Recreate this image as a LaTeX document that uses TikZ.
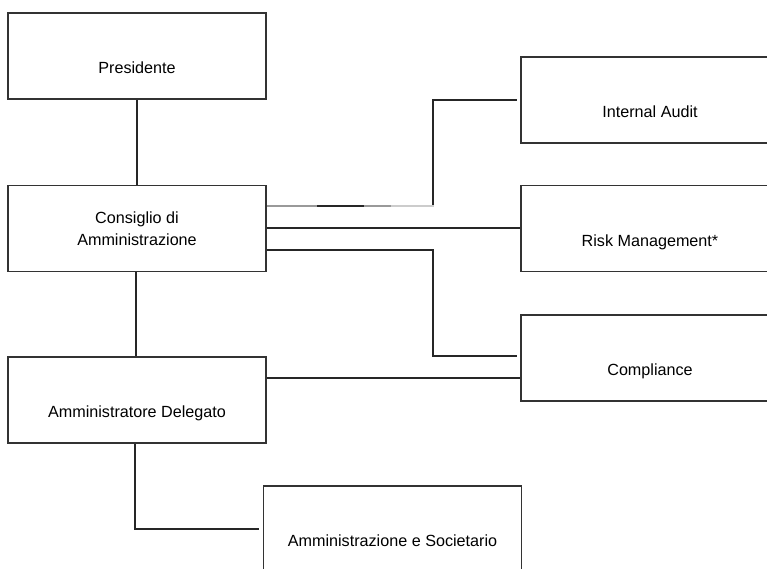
\documentclass[tikz,border=0pt]{standalone}
\usepackage{fontspec}
\setmainfont{Liberation Sans}
\usetikzlibrary{calc}

\def\unitwidth{5.16cm}
\def\unitheight{1.72cm}

\begin{document}
\begin{tikzpicture}[x=0.02cm,y=-0.02cm,line width=0.85pt]
    \tikzstyle{unit}=[draw=black!80,line width=1.1pt,minimum width=\unitwidth,minimum height=\unitheight,inner sep=0pt,font=\fontsize{9.2}{12.5}\selectfont]
    \tikzstyle{low unit}=[unit,text height=1.216cm,text depth=0.504cm]
    \tikzstyle{link}=[draw=black!85]
    \tikzstyle{faint link}=[draw=black!40]
    \tikzstyle{fainter link}=[draw=black!20]

    \clip (0,0) rectangle (767,568);

    % Draw the left column.
    \node[low unit] (pres) at (137,56) {Presidente};
    \node[unit,align=center] (cda) at (137,228.5) {Consiglio di\\Amministrazione};
    \node[low unit] (ad) at (137,400) {Amministratore Delegato};
    \node[low unit] (amm) at (392.5,529) {Amministrazione e Societario};

    % Draw the right column.
    \node[low unit] (ia) at (650,100) {Internal Audit};
    \node[low unit] (rm) at (650,228.5) {Risk Management*};
    \node[low unit] (comp) at (650,358) {Compliance};

    % Connect the left column.
    \draw[link] (pres) -- (cda);
    \draw[link] ($(cda.south)+(-1,0)$) -- ($(ad.north)+(-1,0)$);
    \draw[link,shorten >=2.3pt] ($(ad.south)+(-2,0)$) |- (amm.west);

    % Connect the board with the controls.
    \draw[link,shorten >=1.7pt] ($(cda.east)+(0,-22.5)$) coordinate (ia-a)
        -| ($(ia.west)+(-87,0)$) -- (ia.west);
    \draw[faint link] (ia-a) -- ++(50,0);
    \draw[faint link] ($(ia-a)+(97,0)$) -- ++(27,0);
    \draw[fainter link] ($(ia-a)+(124,0)$) -- ++(43,0);
    \draw[link] ($(cda.east)+(0,-0.5)$) -- ($(rm.west)+(0,-0.5)$);
    \draw[link,shorten >=1.7pt] ($(cda.east)+(0,21.5)$)
        -| ($(comp.west)+(-87,-2)$) -- ($(comp.west)+(0,-2)$);

    % Connect the delegate with compliance.
    \draw[link] ($(ad.east)+(0,-22)$) -- ($(comp.west)+(0,20)$);
\end{tikzpicture}
\end{document}
